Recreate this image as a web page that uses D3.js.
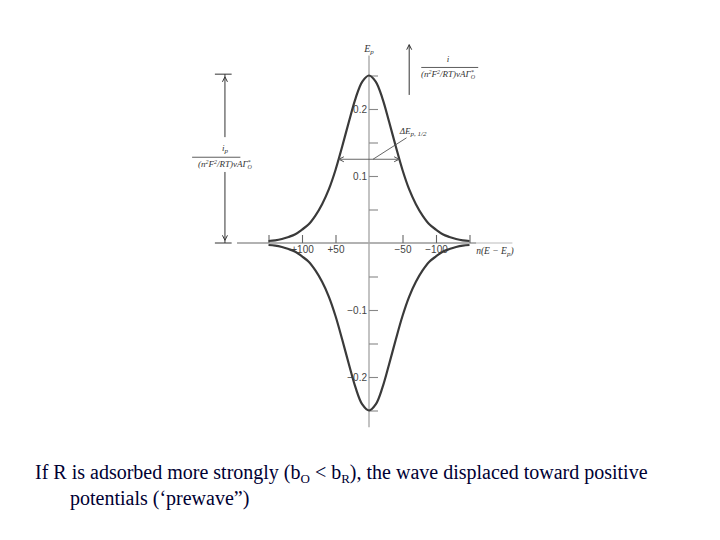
<!DOCTYPE html>
<html><head><meta charset="utf-8">
<script src="https://cdn.jsdelivr.net/npm/d3@7"></script>
<style>body{margin:0;background:#fff}svg{display:block}</style>
</head><body>
<script>
// n(E - Ep) in mV (axis reversed: positive on the left)
const potentials = [150,140,130,120,110,100,90,80,70,60,50,40,30,20,10,0,-10,-20,-30,-40,-50,-60,-70,-80,-90,-100,-110,-120,-130,-140,-150];
// normalized current, cathodic branch (upper)
const cathodicCurrent = [0.003,0.004,0.006,0.009,0.013,0.020,0.028,0.041,0.058,0.080,0.109,0.144,0.181,0.216,0.241,0.250,0.241,0.216,0.181,0.144,0.109,0.080,0.058,0.041,0.028,0.020,0.013,0.009,0.006,0.004,0.003];
// anodic branch (lower)
const anodicCurrent = [-0.003,-0.004,-0.006,-0.009,-0.013,-0.020,-0.028,-0.041,-0.058,-0.080,-0.109,-0.144,-0.181,-0.216,-0.241,-0.250,-0.241,-0.216,-0.181,-0.144,-0.109,-0.080,-0.058,-0.041,-0.028,-0.020,-0.013,-0.009,-0.006,-0.004,-0.003];
const xTickValues = [150,100,50,-50,-100,-150];
const xTickLabels = ["","+100","+50","\u221250","\u2212100",""];
const yTickValues = [0.25,0.2,0.15,0.1,0.05,-0.05,-0.1,-0.15,-0.2,-0.25];
const yTickLabels = ["","0.2","","0.1","","","\u22120.1","","\u22120.2",""];
const halfWidthLevel = 0.125, halfWidthEdges = [45, -45];
const captionLine1 = ["If R is adsorbed more strongly (b", "O", " < b", "R", "), the wave displaced toward positive"];
const captionLine2 = "potentials (\u2018prewave\u201d)";

const W = 720, H = 540;
const svg = d3.select("body").append("svg").attr("width", W).attr("height", H)
  .style("background", "#fff");

const x = d3.scaleLinear().domain([150, -150]).range([268.5, 469.5]);
const y = d3.scaleLinear().domain([-0.25, 0.25]).range([410.5, 75.5]);

const ink = "#3a3a3a";
const serif = "'Liberation Serif','DejaVu Serif',serif";

// axis lines
svg.append("line").attr("x1", x(197)).attr("x2", x(-160)).attr("y1", y(0)).attr("y2", y(0))
  .attr("stroke", "#666").attr("stroke-width", 1.2);
svg.append("line").attr("x1", x(-160)).attr("x2", x(-214)).attr("y1", y(0)).attr("y2", y(0))
  .attr("stroke", "#bbb").attr("stroke-width", 1.2);
svg.append("line").attr("x1", x(0)).attr("x2", x(0)).attr("y1", y(0.28)).attr("y2", y(-0.275))
  .attr("stroke", "#aaa").attr("stroke-width", 1.4);

// y axis ticks
const yAxis = d3.axisLeft(y).tickValues(yTickValues).tickSizeInner(-9).tickSizeOuter(0).tickPadding(2)
  .tickFormat((d, i) => yTickLabels[i]);
const gy = svg.append("g").attr("transform", `translate(${x(0)},0)`).call(yAxis);
gy.select(".domain").remove();
gy.selectAll(".tick line").attr("stroke", "#888").attr("stroke-width", 1.1);
gy.selectAll(".tick text").attr("font-family", "'Liberation Sans',Arial,sans-serif").attr("font-size", 10).attr("fill", "#444");

// x axis ticks
const xAxis = d3.axisBottom(x).tickValues(xTickValues).tickSizeInner(-8).tickSizeOuter(0).tickPadding(3)
  .tickFormat((d, i) => xTickLabels[i]);
const gx = svg.append("g").attr("transform", `translate(0,${y(0)})`).call(xAxis);
gx.select(".domain").remove();
gx.selectAll(".tick line").attr("stroke", "#666").attr("stroke-width", 1.1);
gx.selectAll(".tick text").attr("font-family", "'Liberation Sans',Arial,sans-serif").attr("font-size", 10).attr("fill", "#444");

// curves
const line = d3.line().x((d) => x(d[0])).y((d) => y(d[1])).curve(d3.curveCatmullRom.alpha(0.5));
svg.append("path").datum(potentials.map((p, i) => [p, cathodicCurrent[i]]))
  .attr("d", line).attr("fill", "none").attr("stroke", ink).attr("stroke-width", 2.2);
svg.append("path").datum(potentials.map((p, i) => [p, anodicCurrent[i]]))
  .attr("d", line).attr("fill", "none").attr("stroke", ink).attr("stroke-width", 2.2);

// arrowhead helper (open V)
function head(px, py, dir, color) {
  const s = 5, w = 2.5;
  let pts;
  if (dir === "up") pts = [[px - w, py + s], [px, py], [px + w, py + s]];
  if (dir === "down") pts = [[px - w, py - s], [px, py], [px + w, py - s]];
  if (dir === "left") pts = [[px + s, py - w], [px, py], [px + s, py + w]];
  if (dir === "right") pts = [[px - s, py - w], [px, py], [px - s, py + w]];
  svg.append("path").attr("d", d3.line()(pts)).attr("fill", "none").attr("stroke", color).attr("stroke-width", 1);
}

// left ip double arrow
const ax = x(215);
svg.append("line").attr("x1", x(230)).attr("x2", x(205)).attr("y1", y(0.252)).attr("y2", y(0.252)).attr("stroke", "#333");
svg.append("line").attr("x1", x(230)).attr("x2", x(205)).attr("y1", y(0)).attr("y2", y(0)).attr("stroke", "#333");
svg.append("line").attr("x1", ax).attr("x2", ax).attr("y1", y(0.252)).attr("y2", y(0.158)).attr("stroke", "#333");
svg.append("line").attr("x1", ax).attr("x2", ax).attr("y1", y(0.106)).attr("y2", y(0)).attr("stroke", "#333");
head(ax, y(0.248), "up", "#333");
head(ax, y(0.004), "down", "#333");
const ipLabel = svg.append("g").attr("font-family", serif).attr("font-style", "italic").attr("font-size", 9).attr("fill", "#333");
const t1 = ipLabel.append("text").attr("x", ax).attr("y", y(0.138)).attr("text-anchor", "middle");
t1.append("tspan").text("i");
t1.append("tspan").attr("font-size", 7).attr("dy", 2).text("p");
ipLabel.append("line").attr("x1", x(264)).attr("x2", x(192)).attr("y1", y(0.128)).attr("y2", y(0.128)).attr("stroke", "#333").attr("stroke-width", 0.8);
const t2 = ipLabel.append("text").attr("x", ax).attr("y", y(0.114)).attr("text-anchor", "middle");
t2.append("tspan").text("(n");
t2.append("tspan").attr("font-size", 6).attr("dy", -3).text("2");
t2.append("tspan").attr("dy", 3).text("F");
t2.append("tspan").attr("font-size", 6).attr("dy", -3).text("2");
t2.append("tspan").attr("dy", 3).text("/RT)vA\u0393");
t2.append("tspan").attr("font-size", 6).attr("dy", -3).text("*");
t2.append("tspan").attr("font-size", 6).attr("dx", -3).attr("dy", 5).text("O");

// top-right current arrow and label
const rx = x(-60);
svg.append("line").attr("x1", rx).attr("x2", rx).attr("y1", y(0.221)).attr("y2", y(0.296)).attr("stroke", "#333");
head(rx, y(0.296), "up", "#333");
const rl = svg.append("g").attr("font-family", serif).attr("font-style", "italic").attr("font-size", 9).attr("fill", "#333");
rl.append("text").attr("x", x(-118)).attr("y", y(0.27)).attr("text-anchor", "middle").text("i");
rl.append("line").attr("x1", x(-78)).attr("x2", x(-163)).attr("y1", y(0.262)).attr("y2", y(0.262)).attr("stroke", "#333").attr("stroke-width", 0.8);
const t3 = rl.append("text").attr("x", x(-118)).attr("y", y(0.248)).attr("text-anchor", "middle");
t3.append("tspan").text("(n");
t3.append("tspan").attr("font-size", 6).attr("dy", -3).text("2");
t3.append("tspan").attr("dy", 3).text("F");
t3.append("tspan").attr("font-size", 6).attr("dy", -3).text("2");
t3.append("tspan").attr("dy", 3).text("/RT)vA\u0393");
t3.append("tspan").attr("font-size", 6).attr("dy", -3).text("*");
t3.append("tspan").attr("font-size", 6).attr("dx", -3).attr("dy", 5).text("O");

// E_p label on top of y axis
const ep = svg.append("text").attr("x", x(0)).attr("y", y(0.285)).attr("text-anchor", "middle")
  .attr("font-family", serif).attr("font-style", "italic").attr("font-size", 10).attr("fill", "#333");
ep.append("tspan").text("E");
ep.append("tspan").attr("font-size", 7).attr("dy", 2).text("p");

// half-width double arrow
svg.append("line").attr("x1", x(halfWidthEdges[0])).attr("x2", x(halfWidthEdges[1]))
  .attr("y1", y(halfWidthLevel)).attr("y2", y(halfWidthLevel)).attr("stroke", "#555").attr("stroke-width", 0.9);
head(x(halfWidthEdges[0]), y(halfWidthLevel), "left", "#555");
head(x(halfWidthEdges[1]), y(halfWidthLevel), "right", "#555");
svg.append("line").attr("x1", x(-6)).attr("x2", x(-56)).attr("y1", y(halfWidthLevel)).attr("y2", y(0.157))
  .attr("stroke", "#555").attr("stroke-width", 0.9);
const de = svg.append("text").attr("x", x(-46)).attr("y", y(0.163))
  .attr("font-family", serif).attr("font-style", "italic").attr("font-size", 9).attr("fill", "#333");
de.append("tspan").text("\u0394E");
de.append("tspan").attr("font-size", 7).attr("dy", 2).text("p, 1/2");

// x-axis label
const xl = svg.append("text").attr("x", x(-160)).attr("y", y(-0.016))
  .attr("font-family", serif).attr("font-style", "italic").attr("font-size", 9.5).attr("fill", "#333");
xl.append("tspan").text("n(E \u2212 E");
xl.append("tspan").attr("font-size", 7).attr("dy", 2).text("p");
xl.append("tspan").attr("dy", -2).text(")");

// caption
const cap = svg.append("g").attr("font-family", serif).attr("font-size", 20).attr("fill", "#000033");
const c1 = cap.append("text").attr("x", 35).attr("y", 479);
captionLine1.forEach((s, i) => {
  const sub = i === 1 || i === 3;
  c1.append("tspan").attr("font-size", sub ? 13 : 20).attr("dy", sub ? 4 : (i === 0 ? 0 : -4)).text(s);
});
cap.append("text").attr("x", 70).attr("y", 505).text(captionLine2);
</script>
</body></html>
